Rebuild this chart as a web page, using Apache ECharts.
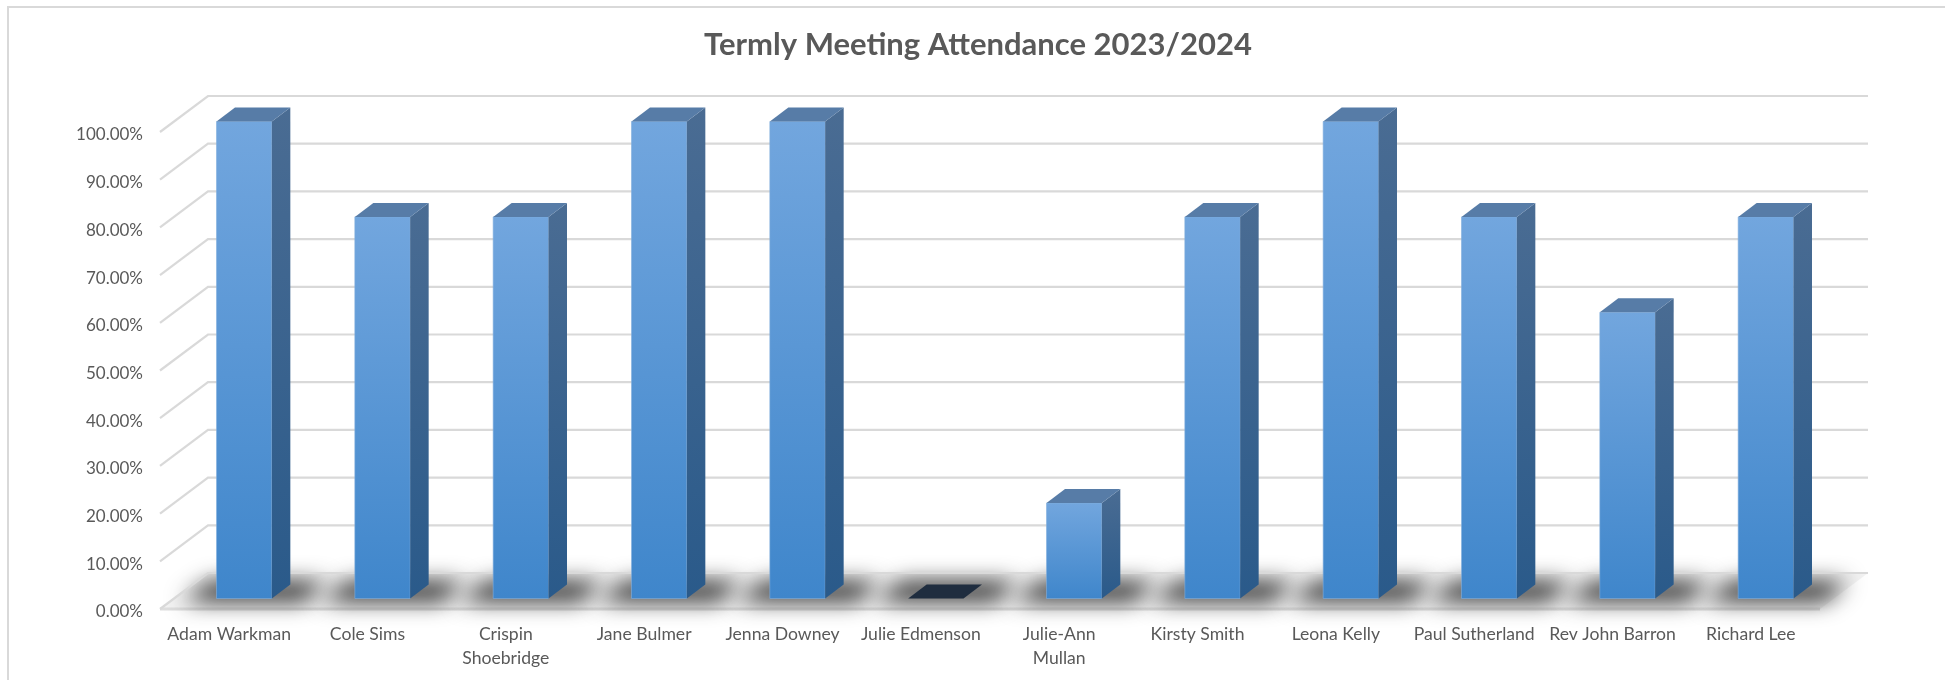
<!DOCTYPE html>
<html><head><meta charset="utf-8">
<style>html,body{margin:0;padding:0;background:#fff}#c{width:1945px;height:680px}</style>
<script src="https://cdn.jsdelivr.net/npm/echarts@6/dist/echarts.min.js"></script>
</head><body><div id="c"></div>
<script>
const titleText = 'Termly Meeting Attendance 2023/2024';
const names = ['Adam Warkman','Cole Sims','Crispin\nShoebridge','Jane Bulmer','Jenna Downey','Julie Edmenson','Julie-Ann\nMullan','Kirsty Smith','Leona Kelly','Paul Sutherland','Rev John Barron','Richard Lee'];
const attendance = [1,0.8,0.8,1,1,0,0.2,0.8,1,0.8,0.6,0.8];
const yTicks = [0,0.1,0.2,0.3,0.4,0.5,0.6,0.7,0.8,0.9,1];

const chart = echarts.init(document.getElementById('c'), null, {renderer:'canvas'});
const WALL = [48,-36], DEPTH = [18.5,-14], LIFT = [15,-10.5], OFF = 4000;
const grad = (a,b)=>new echarts.graphic.LinearGradient(0,0,0,1,[{offset:0,color:a},{offset:1,color:b}]);

function wall(params, api){
  const r = params.coordSys, y = api.coord([0,api.value(1)])[1];
  return {type:'polyline', silent:true, shape:{points:[[r.x,y],[r.x+WALL[0],y+WALL[1]],[r.x+r.width+WALL[0],y+WALL[1]]]},
    style:{stroke:'#d9d9d9',lineWidth:2.2,fill:null}};
}
function floor(params, api){
  const r = params.coordSys, b = r.y+r.height;
  return {type:'group',silent:true,children:[
    {type:'polygon', shape:{points:[[r.x,b],[r.x+WALL[0],b+WALL[1]],[r.x+r.width+WALL[0],b+WALL[1]],[r.x+r.width,b]]},
      style:{fill:'#f3f3f3',stroke:null}},
    {type:'line', shape:{x1:r.x,y1:b,x2:r.x+r.width,y2:b}, style:{stroke:'#dedede',lineWidth:3}}
  ]};
}
function shadow(params, api){
  const c = api.coord([api.value(0),0]), w = api.size([1,0])[0]*0.4;
  const x0 = c[0]+LIFT[0]-w/2, x1 = x0+w, yf = c[1]+LIFT[1];
  // Only the blurred shadow lands on the floor: the casting shape sits off-canvas.
  return {type:'polygon', silent:true, shape:{points:[
      [x0-34-OFF,yf+3],[x1+32-OFF,yf+3],[x1+54-OFF,yf-17],[x0-6-OFF,yf-17]]},
    style:{fill:'#000',shadowBlur:22,shadowColor:'#2c2c2c',shadowOffsetX:OFF}};
}
function bar(params, api){
  const idx = api.value(0), v = api.value(1);
  const c = api.coord([idx,v]), base = api.coord([idx,0]), w = api.size([1,0])[0]*0.4;
  const x0 = c[0]+LIFT[0]-w/2, x1 = x0+w, yt = c[1]+LIFT[1], yb = base[1]+LIFT[1];
  const dx = DEPTH[0], dy = DEPTH[1];
  const topFace = {type:'polygon', shape:{points:[[x0,yt],[x1,yt],[x1+dx,yt+dy],[x0+dx,yt+dy]]},
    style:{fill: v===0 ? '#1f2d3f' : '#577ca7'}};
  if (v===0) return {type:'group',silent:true,children:[topFace]};
  return {type:'group',silent:true,children:[
    {type:'rect', shape:{x:x0,y:yt,width:w,height:yb-yt},
      style:{fill:grad('#72a6de','#3f86cb'),stroke:'#82aedd',lineWidth:0.6}},
    {type:'polygon', shape:{points:[[x1,yt],[x1+dx,yt+dy],[x1+dx,yb+dy],[x1,yb]]},
      style:{fill:grad('#4a6c93','#2a5a8a')}},
    topFace
  ]};
}
const barData = attendance.map((v,i)=>[i,v]);
chart.setOption({
  animation:false,
  backgroundColor:'#ffffff',
  title:{text:titleText,left:973,top:24,textAlign:'center',
    textStyle:{fontFamily:'Lato',fontWeight:'bold',fontSize:31,color:'#595959'}},
  tooltip:{show:false},
  grid:{left:160,right:125,top:132,bottom:71,containLabel:false},
  xAxis:{type:'category',data:names,axisLine:{show:false},axisTick:{show:false},splitLine:{show:false},
    axisLabel:{interval:0,margin:13,lineHeight:24,fontFamily:'Lato',fontSize:17.6,color:'#595959'}},
  yAxis:{type:'value',min:0,max:1,interval:0.1,axisLine:{show:false},axisTick:{show:false},splitLine:{show:false},
    axisLabel:{margin:17,fontFamily:'Lato',fontSize:17,color:'#595959',formatter:v=>'{a|'+(v*100).toFixed(2)+'%}',
      rich:{a:{fontFamily:'Lato',fontSize:17,color:'#595959',padding:[6,0,0,0]}}}},
  graphic:[
    {type:'polyline',silent:true,shape:{points:[[8,680],[8,7],[1945,7]]},style:{stroke:'#d9d9d9',lineWidth:2,fill:null}}
  ],
  series:[
    {type:'custom',z:1,renderItem:floor,data:[[0,0]],encode:{x:0,y:1},silent:true},
    {type:'custom',z:2,renderItem:shadow,data:barData,encode:{x:0,y:1},silent:true},
    {type:'custom',z:3,renderItem:wall,data:yTicks.map(v=>[0,v]),encode:{x:0,y:1},silent:true},
    {type:'custom',z:4,renderItem:bar,data:barData,encode:{x:0,y:1},silent:true}
  ]
});
</script></body></html>
